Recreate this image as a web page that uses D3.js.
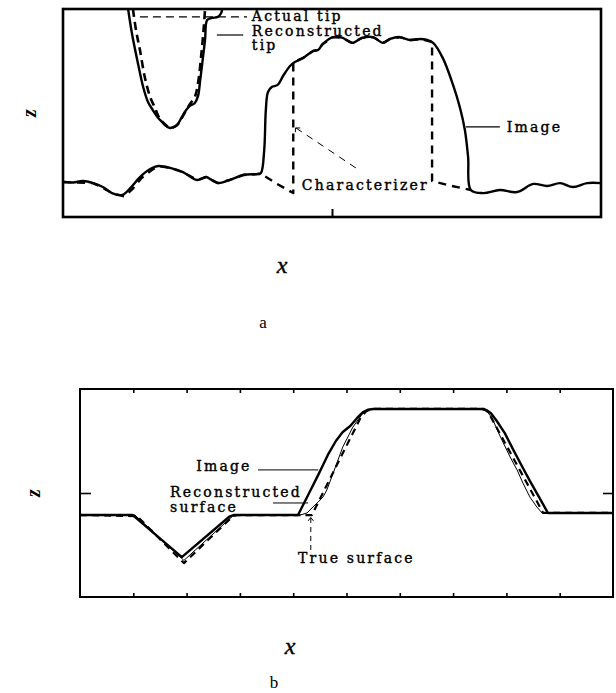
<!DOCTYPE html>
<html><head><meta charset="utf-8">
<script src="https://cdn.jsdelivr.net/npm/d3@7"></script>
<style>body{margin:0;background:#fff}svg{display:block}</style>
</head><body>
<svg id="fig" width="616" height="693"></svg>
<script>
// ---- Panel a: line profile (x, z), both axes in arbitrary units 0..100 ----
const aImage = [
  [0,16.8],[1.9,16.6],[3.7,17.3],[5.6,16.3],[7.4,14.4],[9.1,11.5],[11.0,10.6],[12.5,13.9],
  [14.3,19.2],[16.2,23.1],[17.7,24.5],[19.9,23.6],[22.3,21.6],[24.9,17.8],[26.6,19.2],
  [27.3,18.3],[28.8,16.3],[31.0,17.8],[33.5,20.2],[36.2,20.7],[36.8,21.2],
  [37.4,32.2],[37.7,51.4],[38.1,60.1],[38.8,62.5],[39.9,63.5],[40.9,67.8],[42.2,72.6],
  [43.1,74.5],[44.6,76.4],[46.5,79.8],[47.4,80.3],[48.3,83.2],[50.2,86.5],[52.0,86.1],
  [53.7,83.7],[55.6,86.1],[57.6,86.5],[59.5,83.7],[60.8,85.6],[62.6,86.5],[64.5,85.1],
  [66.4,85.6],[67.7,85.1],[68.8,83.7],[70.6,76.4],[72.5,63.5],[73.8,52.4],[74.7,41.8],
  [75.3,28.8],[75.8,13.0],[78.1,11.5],[81.2,13.0],[84.4,12.0],[87.4,15.9],[90.0,14.9],
  [92.4,16.3],[94.8,14.4],[97.4,16.3],[100,16.3]
];
// characterizer (true sample surface)
const aCharacterizer = [
  [0,16.8],[5.6,16.3],[9.4,11.2],[11.4,9.9],[12.9,13.4],[14.6,18.7],[16.5,22.6],
  [17.7,24.5],[19.9,23.6],[22.3,21.6],[24.9,17.8],[26.6,19.2],[27.3,18.3],[28.8,16.3],
  [31.0,17.8],[33.5,20.2],[36.8,20.7],[39.8,15.9],[42.8,11.5],[42.8,74.5],[44.6,76.4],
  [46.5,79.8],[47.4,80.3],[48.3,83.2],[50.2,86.5],[52.0,86.1],[53.7,83.7],[55.6,86.1],
  [57.6,86.5],[59.5,83.7],[60.8,85.6],[62.6,86.5],[64.5,85.1],[66.4,85.6],[68.6,84.1],
  [68.6,17.3],[71.4,15.4],[74.2,13.9],[75.8,13.0]
];
// reconstructed tip
const aTipReconstructed = [
  [12.1,100],[12.8,88.5],[13.8,75.5],[14.9,62.5],[15.8,55.3],[16.7,51.4],[17.7,47.6],
  [18.4,45.7],[19.1,43.8],[19.9,42.8],[20.6,43.3],[21.2,44.2],[22.1,48.1],[22.9,51.4],
  [23.6,53.4],[24.5,54.8],[25.1,58.2],[25.5,65.9],[25.8,72.1],[26.4,85.1],[26.8,94.7],
  [27.7,95.7],[28.8,96.2],[29.4,98.1],[29.6,100]
];
// actual tip
const aTipActual = [
  [13.0,100],[13.6,89.4],[14.3,80.3],[15.2,67.3],[16.2,57.7],[17.1,52.4],[17.9,47.6],
  [19.1,44.2],[19.9,42.8],[21.2,44.2],[22.7,50.5],[23.6,54.3],[24.5,57.7],[25.1,64.4],
  [25.7,77.9],[26.2,92.3],[26.4,100]
];

// ---- Panel b: line profile (x, z), arbitrary units 0..100 ----
const bImage = [
  [0,39.4],[9.9,39.4],[19.1,19.2],[28.0,38.6],[28.8,39.4],[40.9,39.4],[42.8,49.0],
  [44.7,58.7],[46.5,68.3],[48.0,75.0],[49.3,79.3],[50.7,82.2],[52.0,86.1],[53.1,88.9],
  [54.0,90.0],[55.0,90.4],[75.4,90.4],[76.3,89.8],[77.1,88.3],[78.2,84.6],[79.7,78.8],
  [81.2,71.2],[82.9,63.0],[84.4,55.8],[86.1,48.1],[87.8,40.4],[100,40.4]
];
const bReconstructed = [
  [0,39.4],[10.3,39.4],[19.5,17.6],[28.6,38.8],[29.4,39.4],[41.3,39.4],[42.6,40.4],
  [43.7,43.3],[44.7,45.7],[45.6,48.1],[46.3,51.4],[47.5,59.6],[49.3,72.1],[51.2,81.7],
  [53.1,88.5],[54.8,90.4],[76.0,90.4],[77.3,86.1],[78.8,77.4],[80.7,67.3],[82.0,61.1],
  [83.1,54.8],[84.4,48.1],[85.7,43.3],[86.7,40.4],[100,40.4]
];
const bTrueSurface = [
  [0,39.4],[10.7,38.9],[19.5,16.3],[28.7,38.9],[29.6,39.4],[43.5,39.4],[52.6,86.0],
  [53.8,89.6],[55.2,90.4],[75.8,90.4],[76.6,88.8],[86.9,40.4],[100,40.4]
];
const bTicksX = [10,20,30,40,50,60,70,80,90];
const bTicksZ = [50];
const aTicksX = [50];

const svg = d3.select("#fig");
const labelFont = "'DejaVu Serif', serif";

function panel(box, id) {
  const x = d3.scaleLinear().domain([0,100]).range([box.left, box.right]);
  const z = d3.scaleLinear().domain([0,100]).range([box.bottom, box.top]);
  svg.append("clipPath").attr("id", id)
    .append("rect").attr("x", box.left).attr("y", box.top)
    .attr("width", box.right - box.left).attr("height", box.bottom - box.top);
  const g = svg.append("g");
  const plot = g.append("g").attr("clip-path", `url(#${id})`);
  return {x, z, g, plot};
}

function drawLine(p, data, style, curve) {
  const line = d3.line().x(d => p.x(d[0])).y(d => p.z(d[1]))
    .curve(curve || d3.curveCatmullRom.alpha(0.5));
  const path = p.plot.append("path").datum(data).attr("d", line)
    .attr("fill", "none").attr("stroke", "#000")
    .attr("stroke-width", style.w).attr("stroke-linejoin", "round");
  if (style.dash) path.attr("stroke-dasharray", style.dash);
  return path;
}

function label(p, text, xv, zv) {
  p.g.append("text").attr("x", p.x(xv)).attr("y", p.z(zv))
    .attr("font-family", labelFont).attr("font-size", 14)
    .attr("letter-spacing", "2.2px")
    .attr("stroke", "#000").attr("stroke-width", 0.4)
    .attr("fill", "#000").text(text);
}

function leader(p, pts, style) {
  const l = p.g.append("path")
    .attr("d", d3.line().x(d => p.x(d[0])).y(d => p.z(d[1]))(pts))
    .attr("fill", "none").attr("stroke", "#000").attr("stroke-width", style.w);
  if (style.dash) l.attr("stroke-dasharray", style.dash);
}

function axisTitles(zPos, xPos, letterPos, letter) {
  svg.append("text").attr("transform", `translate(${zPos[0]},${zPos[1]}) rotate(-90)`)
    .attr("text-anchor","middle").attr("dy","0.3em")
    .attr("font-family","'Liberation Serif', serif").attr("font-style","italic")
    .attr("font-weight","bold").attr("font-size",20).text("z");
  svg.append("text").attr("x",xPos[0]).attr("y",xPos[1]).attr("text-anchor","middle")
    .attr("font-family","'Liberation Serif', serif").attr("font-style","italic")
    .attr("font-size",24).attr("stroke","#000").attr("stroke-width",0.4).text("x");
  svg.append("text").attr("x",letterPos[0]).attr("y",letterPos[1]).attr("text-anchor","middle")
    .attr("font-family","'Liberation Serif', serif").attr("font-size",17).text(letter);
}

// ================= Panel a =================
const A = panel({left:63, right:601, top:9, bottom:217}, "clipA");
drawLine(A, aCharacterizer, {w:2.4, dash:"8,6"}, d3.curveLinear);
drawLine(A, aImage, {w:2.4});
drawLine(A, aTipActual, {w:2.6, dash:"8,5"});
drawLine(A, aTipReconstructed, {w:2.4});

// frame and inner tick
A.g.append("rect").attr("x", 63).attr("y", 9).attr("width", 538).attr("height", 208)
  .attr("fill", "none").attr("stroke", "#000").attr("stroke-width", 2.6);
A.g.append("g").attr("transform", `translate(0,${A.z(0)})`)
  .call(d3.axisBottom(A.x).tickValues(aTicksX).tickSize(-8).tickFormat(""))
  .call(s => s.select(".domain").remove())
  .call(s => s.selectAll("line").attr("stroke-width", 2));

// annotations
leader(A, [[14.3,96.2],[34.2,96.2]], {w:1.4, dash:"8,5"});
label(A, "Actual tip", 35.1, 94.3);
leader(A, [[28.6,87.5],[33.5,87.5]], {w:1.2});
label(A, "Reconstructed", 35.1, 86.8);
label(A, "tip", 35.1, 80.5);
leader(A, [[74.9,43.3],[81.2,43.3]], {w:1.2});
label(A, "Image", 82.5, 41.0);
leader(A, [[43.3,42.8],[54.6,23.3]], {w:1, dash:"7,6"});
A.g.append("path").attr("d", d3.line()([[A.x(43.2),A.z(40.8)],[A.x(43.2),A.z(42.8)],[A.x(44.1),A.z(42.8)]]))
  .attr("fill","none").attr("stroke","#000").attr("stroke-width",1);
label(A, "Characterizer", 44.4, 13.0);

axisTitles([30,113], [282,273], [263,328], "a");

// ================= Panel b =================
const B = panel({left:80, right:613, top:389, bottom:597}, "clipB");
drawLine(B, bTrueSurface, {w:2.2, dash:"7,5"}, d3.curveLinear);
drawLine(B, bReconstructed, {w:1}, d3.curveLinear);
drawLine(B, bImage, {w:2.4}, d3.curveLinear);

B.g.append("rect").attr("x", 80).attr("y", 389).attr("width", 533).attr("height", 208)
  .attr("fill", "none").attr("stroke", "#000").attr("stroke-width", 2);
const tickStyle = s => s.call(t => t.select(".domain").remove())
  .call(t => t.selectAll("line").attr("stroke-width", 1.6));
B.g.append("g").attr("transform", `translate(0,${B.z(0)})`)
  .call(d3.axisBottom(B.x).tickValues(bTicksX).tickSize(-4).tickFormat("")).call(tickStyle);
B.g.append("g").attr("transform", `translate(0,${B.z(100)})`)
  .call(d3.axisTop(B.x).tickValues(bTicksX).tickSize(-4).tickFormat("")).call(tickStyle);
B.g.append("g").attr("transform", `translate(${B.x(0)},0)`)
  .call(d3.axisLeft(B.z).tickValues(bTicksZ).tickSize(-11).tickFormat("")).call(tickStyle);
B.g.append("g").attr("transform", `translate(${B.x(100)},0)`)
  .call(d3.axisRight(B.z).tickValues(bTicksZ).tickSize(-10).tickFormat("")).call(tickStyle);

label(B, "Image", 21.8, 60.6);
leader(B, [[33.4,61.1],[44.7,61.1]], {w:1});
label(B, "Reconstructed", 16.9, 48.3);
label(B, "surface", 16.9, 40.9);
leader(B, [[36.2,45.2],[42.8,45.2]], {w:1});
leader(B, [[43.3,38.0],[43.3,22.1]], {w:1, dash:"5,4"});
B.g.append("path").attr("d", d3.line()([[B.x(42.8),B.z(36.6)],[B.x(43.3),B.z(38.2)],[B.x(43.8),B.z(36.6)]]))
  .attr("fill","none").attr("stroke","#000").attr("stroke-width",1);
label(B, "True surface", 40.9, 16.3);

axisTitles([34,493], [290,654], [274,688], "b");
</script>
</body></html>
